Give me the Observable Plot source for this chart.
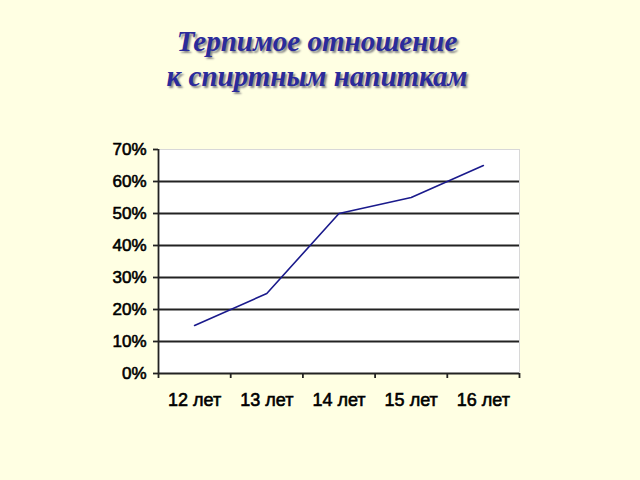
<!DOCTYPE html>
<html>
<head>
<meta charset="utf-8">
<script src="https://cdn.jsdelivr.net/npm/d3@7"></script>
<script src="https://cdn.jsdelivr.net/npm/@observablehq/plot@0.6"></script>
<style>
  html, body { margin: 0; padding: 0; background: #FFFFE3; width: 640px; height: 480px; overflow: hidden; }
  #title {
    height: 130px; box-sizing: border-box; padding-top: 24px; padding-right: 6px;
    text-align: center; font-family: "Liberation Serif", "Times New Roman", serif;
    font-style: italic; font-weight: bold; font-size: 29px; line-height: 35px;
    color: #2B2B9B; text-shadow: 2px 2px 2px #888;
  }
  #chart svg { display: block; }
  #chart svg text { stroke: #000; stroke-width: 0.6px; }
</style>
</head>
<body>
<div id="title">Терпимое отношение<br>к спиртным напиткам</div>
<div id="chart"></div>
<script>
const categories = ["12 лет", "13 лет", "14 лет", "15 лет", "16 лет"];
const values = [0.15, 0.25, 0.50, 0.55, 0.65];
const yTicks = [0, 0.1, 0.2, 0.3, 0.4, 0.5, 0.6, 0.7];
const gridTicks = [0.1, 0.2, 0.3, 0.4, 0.5, 0.6];

const data = categories.map((c, i) => ({i, c, v: values[i]}));
const xDomain = [-0.5, categories.length - 0.5];
const boundaries = d3.range(categories.length + 1).map(k => k - 0.5);
const centers = d3.range(categories.length);

const chart = Plot.plot({
  width: 640,
  height: 350,
  marginLeft: 158,
  marginRight: 121,
  marginTop: 19,
  marginBottom: 107,
  style: {background: "transparent", fontFamily: "'Liberation Sans', Arial, sans-serif", fontSize: "17px", color: "#000"},
  x: {type: "linear", domain: xDomain},
  y: {domain: [0, 0.7]},
  marks: [
    Plot.frame({fill: "white", stroke: "#d8d8d8"}),
    Plot.ruleY(gridTicks, {stroke: "#222", strokeWidth: 1.8}),
    Plot.ruleX([xDomain[0]], {stroke: "#222", strokeWidth: 1.8}),
    Plot.ruleY([0], {stroke: "#222", strokeWidth: 1.8}),
    Plot.axisY({ticks: yTicks, tickFormat: d => Math.round(d * 100) + "%", tickSize: 5, tickPadding: 7, stroke: "#222", strokeWidth: 1.8, fontSize: 17, label: null}),
    Plot.axisX({ticks: boundaries, tickFormat: () => "", tickSize: 5, stroke: "#222", strokeWidth: 1.8, label: null}),
    Plot.axisX({ticks: centers, tickFormat: i => categories[i], tickSize: 0, tickPadding: 20, fontSize: 18, label: null}),
    Plot.line(data, {x: "i", y: "v", stroke: "#1A1A8C", strokeWidth: 1.6})
  ]
});
document.getElementById("chart").appendChild(chart);
</script>
</body>
</html>
